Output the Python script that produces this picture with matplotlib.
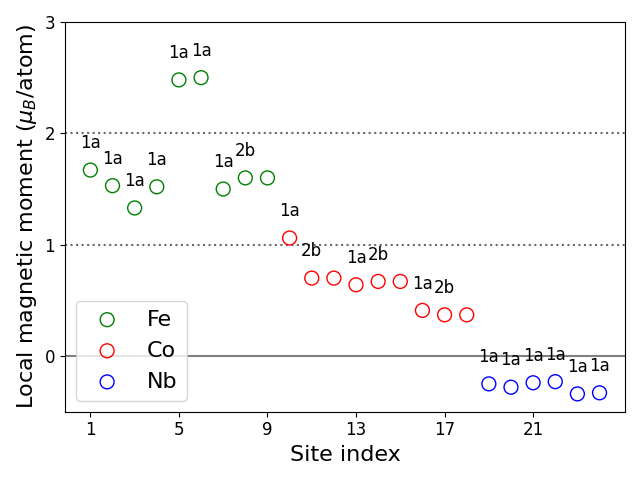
import matplotlib
matplotlib.use("Agg")
import matplotlib.pyplot as plt

# site magnetic moments (mu_B/atom)
fe_sites = [1, 2, 3, 4, 5, 6, 7, 8, 9]
fe_moments = [1.67, 1.53, 1.33, 1.52, 2.48, 2.50, 1.50, 1.60, 1.60]
co_sites = [10, 11, 12, 13, 14, 15, 16, 17, 18]
co_moments = [1.06, 0.70, 0.70, 0.64, 0.67, 0.67, 0.41, 0.37, 0.37]
nb_sites = [19, 20, 21, 22, 23, 24]
nb_moments = [-0.25, -0.28, -0.24, -0.23, -0.34, -0.33]

# Wyckoff labels written above some sites
label_sites = [1, 2, 3, 4, 5, 6, 7, 8, 10, 11, 13, 14, 16, 17, 19, 20, 21, 22, 23, 24]
label_texts = ["1a", "1a", "1a", "1a", "1a", "1a", "1a", "2b", "1a", "2b",
               "1a", "2b", "1a", "2b", "1a", "1a", "1a", "1a", "1a", "1a"]

fig, ax = plt.subplots(figsize=(6.4, 4.8), dpi=100)

ax.axhline(0, color="gray", lw=1.5)
ax.axhline(1, color="dimgray", ls=":", lw=1.5)
ax.axhline(2, color="dimgray", ls=":", lw=1.5)

ax.scatter(fe_sites, fe_moments, s=100, facecolors="none", edgecolors="green", label="Fe", zorder=3)
ax.scatter(co_sites, co_moments, s=100, facecolors="none", edgecolors="red", label="Co", zorder=3)
ax.scatter(nb_sites, nb_moments, s=100, facecolors="none", edgecolors="blue", label="Nb", zorder=3)

all_sites = fe_sites + co_sites + nb_sites
all_moments = fe_moments + co_moments + nb_moments
for site, txt in zip(label_sites, label_texts):
    y = all_moments[all_sites.index(site)]
    ax.text(site, y + 0.16, txt, ha="center", va="bottom", fontsize=12, zorder=4)

ax.set_ylim(-0.5, 3)
ax.set_xticks([1, 5, 9, 13, 17, 21])
ax.set_yticks([0, 1, 2, 3])
ax.tick_params(labelsize=12)
ax.set_xlabel("Site index", fontsize=16)
ax.set_ylabel(r"Local magnetic moment ($\mu_B$/atom)", fontsize=16)
ax.legend(fontsize=16, loc="lower left")

plt.tight_layout()
plt.savefig("out.png")
